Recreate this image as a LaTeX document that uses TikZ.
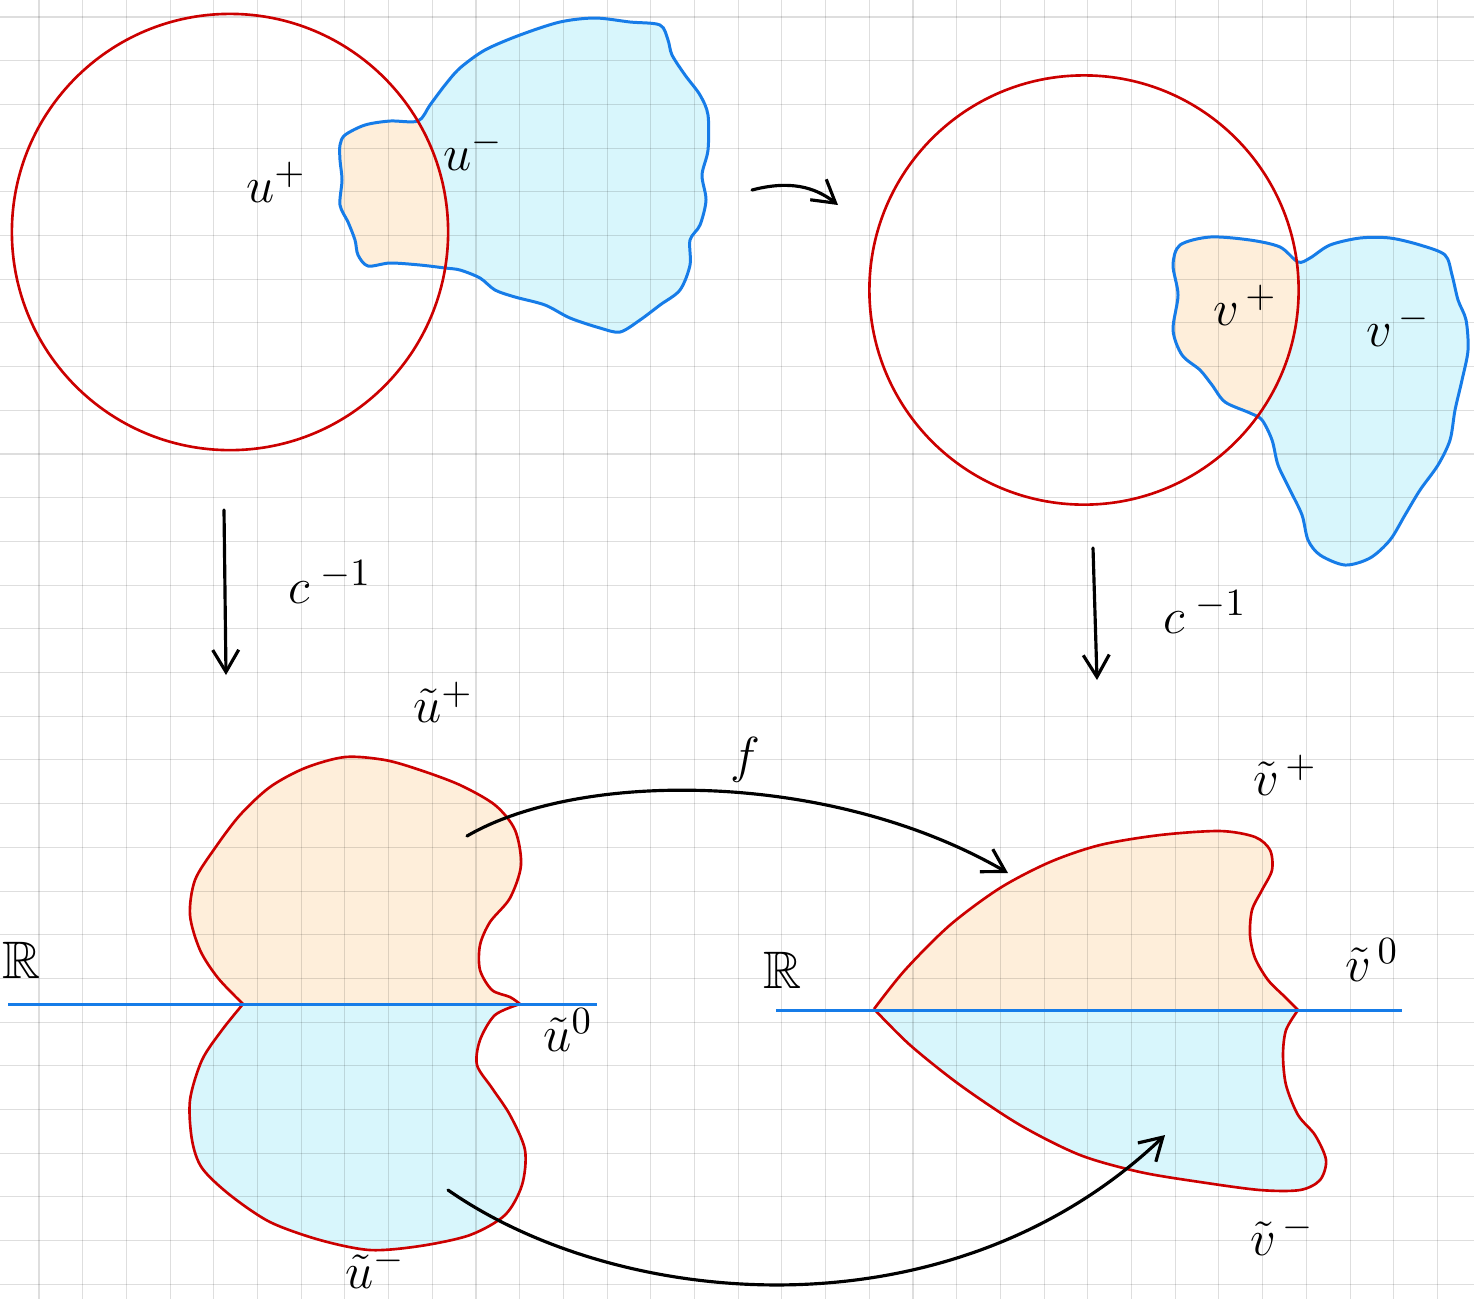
\documentclass[tikz,border=0pt]{standalone}
\usepackage{amssymb}
\usetikzlibrary{arrows.meta}
\definecolor{redc}{RGB}{204,0,0}
\definecolor{bluec}{RGB}{22,124,232}
\definecolor{orf}{RGB}{254,238,218}
\definecolor{cyf}{RGB}{216,246,252}
\begin{document}
\begin{tikzpicture}[x=0.01cm,y=-0.01cm,
 redline/.style={draw=redc,line width=0.75pt},
 blueline/.style={draw=bluec,line width=0.85pt},
 arr/.style={draw=black,line width=0.9pt,line cap=round,-{Straight Barb[length=2.2mm,width=2.6mm,line width=0.9pt]}},
 lab/.style={font=\fontsize{15}{18}\selectfont, inner sep=0pt},
 gridline/.style={draw=black,draw opacity=0.13,line width=0.3pt}]
\useasboundingbox (0,0) rectangle (1474,1299);
\fill[white] (0,0) rectangle (1474,1299);

% ---------- fills ----------
% top-left blob
\def\blobA{(345,135) (365,125) (390,121) (418,121) (430,105) (445,85) (460,68) (485,50) (520,35) (560,22) (595,18) (630,22) (660,25) (668,40) (672,55) (685,75) (700,95) (708,115) (708,150) (702,175) (706,200) (700,225) (690,240) (690,265) (680,290) (660,305) (640,320) (620,332) (600,328) (570,318) (545,305) (515,297) (495,290) (480,278) (460,270) (445,268) (420,265) (390,263) (368,266) (358,255) (355,240) (348,222) (340,205) (342,180) (340,160) (340,145)}
\fill[cyf] plot[smooth cycle,tension=0.5] coordinates {\blobA};
\begin{scope}
 \clip (230,232) circle[radius=2.18cm];
 \fill[orf] plot[smooth cycle,tension=0.5] coordinates {\blobA};
\end{scope}
% top-right blob
\def\blobB{(1180,245) (1210,237) (1250,240) (1280,247) (1298,262) (1310,258) (1330,245) (1360,238) (1390,238) (1420,245) (1445,255) (1452,275) (1458,300) (1466,320) (1468,350) (1462,380) (1455,410) (1450,440) (1438,465) (1420,490) (1405,515) (1390,540) (1370,558) (1345,565) (1320,555) (1308,540) (1302,515) (1290,490) (1278,465) (1272,440) (1262,420) (1250,413) (1225,402) (1212,385) (1200,370) (1182,355) (1173,330) (1178,295) (1173,265)}
\fill[cyf] plot[smooth cycle,tension=0.5] coordinates {\blobB};
\begin{scope}
 \clip (1084,290) circle[radius=2.145cm];
 \fill[orf] plot[smooth cycle,tension=0.5] coordinates {\blobB};
\end{scope}
% bottom-left lobes
\def\ulU{(243,1004) (218,978) (200,950) (190,915) (195,880) (215,848) (240,815) (270,787) (305,768) (345,757) (385,760) (420,770) (460,785) (495,805) (515,830) (521,865) (510,898) (490,922) (480,945) (480,970) (492,990) (510,997) (520,1004)}
\def\ulL{(243,1004) (222,1030) (202,1060) (190,1100) (192,1140) (202,1168) (230,1195) (270,1222) (320,1240) (370,1250) (420,1246) (470,1235) (505,1215) (522,1185) (525,1150) (510,1115) (492,1088) (477,1065) (480,1040) (495,1015) (520,1004)}
\fill[orf] plot[smooth,tension=0.5] coordinates {\ulU} -- cycle;
\fill[cyf] plot[smooth,tension=0.5] coordinates {\ulL} -- cycle;
% bottom-right lobes
\def\vrU{(874,1009) (905,970) (950,925) (1000,888) (1050,862) (1100,845) (1160,835) (1220,831) (1255,837) (1270,850) (1272,870) (1262,890) (1252,910) (1250,935) (1255,958) (1268,980) (1285,997) (1298,1010)}
\def\vrL{(874,1009) (910,1045) (960,1085) (1020,1125) (1080,1155) (1140,1172) (1200,1182) (1260,1190) (1300,1190) (1320,1180) (1326,1160) (1315,1135) (1298,1115) (1286,1085) (1283,1055) (1286,1030) (1298,1010)}
\fill[orf] plot[smooth,tension=0.5] coordinates {\vrU} -- cycle;
\fill[cyf] plot[smooth,tension=0.5] coordinates {\vrL} -- cycle;

% ---------- grid ----------
\foreach \k in {0,...,32} \draw[gridline] ({39+43.7*\k},0) -- ({39+43.7*\k},1299);
\foreach \k in {0,...,29} \draw[gridline] (0,{17+43.7*\k}) -- (1474,{17+43.7*\k});

% ---------- outlines ----------
\draw[blueline] plot[smooth cycle,tension=0.5] coordinates {\blobA};
\draw[blueline] plot[smooth cycle,tension=0.5] coordinates {\blobB};
\draw[redline] (230,232) circle[radius=2.18cm];
\draw[redline] (1084,290) circle[radius=2.145cm];
\draw[redline] plot[smooth,tension=0.5] coordinates {\ulU};
\draw[redline] plot[smooth,tension=0.5] coordinates {\ulL};
\draw[redline] plot[smooth,tension=0.5] coordinates {\vrU};
\draw[redline] plot[smooth,tension=0.5] coordinates {\vrL};
% real lines
\coordinate (r1a) at (8,1004); \coordinate (r1b) at (597,1004);
\coordinate (r2a) at (776,1010); \coordinate (r2b) at (1402,1010);
\draw[blueline] (r1a) -- (r1b);
\draw[blueline] (r2a) -- (r2b);

% ---------- arrows ----------
\coordinate (a1s) at (752,190); \coordinate (a1e) at (838,205);
\draw[arr] (a1s) .. controls (790,180) and (815,187) .. (a1e);
\coordinate (a2s) at (224,510); \coordinate (a2e) at (226,675);
\draw[arr] (a2s) -- (a2e);
\coordinate (a3s) at (1093,548); \coordinate (a3e) at (1097,680);
\draw[arr] (a3s) -- (a3e);
\coordinate (fs) at (467,836); \coordinate (fe) at (1008,873);
\draw[arr] (fs) .. controls (580,770) and (830,770) .. (fe);
\coordinate (gs) at (448,1190); \coordinate (ge) at (1165,1135);
\draw[arr] (gs) .. controls (620,1310) and (950,1340) .. (ge);

% ---------- labels ----------
\node[lab] (lup) at (276,182) {$u^{+}$};
\node[lab] (lum) at (473,150) {$u^{-}$};
\node[lab] (lvp) at (1245,305) {$v^{\,+}$};
\node[lab] (lvm) at (1398,326) {$v^{\,-}$};
\node[lab] (lc1) at (330,582) {$c^{\;-1}$};
\node[lab] (lc2) at (1205,612) {$c^{\;-1}$};
\node[lab] (ltup) at (443,702) {$\tilde{u}^{+}$};
\node[lab] (ltvp) at (1285,775) {$\tilde{v}^{\,+}$};
\node[lab] (ltu0) at (568,1030) {$\tilde{u}^{0}$};
\node[lab] (ltv0) at (1372,960) {$\tilde{v}^{\,0}$};
\node[lab] (ltum) at (375,1268) {$\tilde{u}^{-}$};
\node[lab] (ltvm) at (1282,1235) {$\tilde{v}^{\,-}$};
\node[lab] (lf) at (745,760) {$f$};
\node[lab] (lR1) at (22,960) {$\mathbb{R}$};
\node[lab] (lR2) at (783,970) {$\mathbb{R}$};
\end{tikzpicture}
\end{document}
